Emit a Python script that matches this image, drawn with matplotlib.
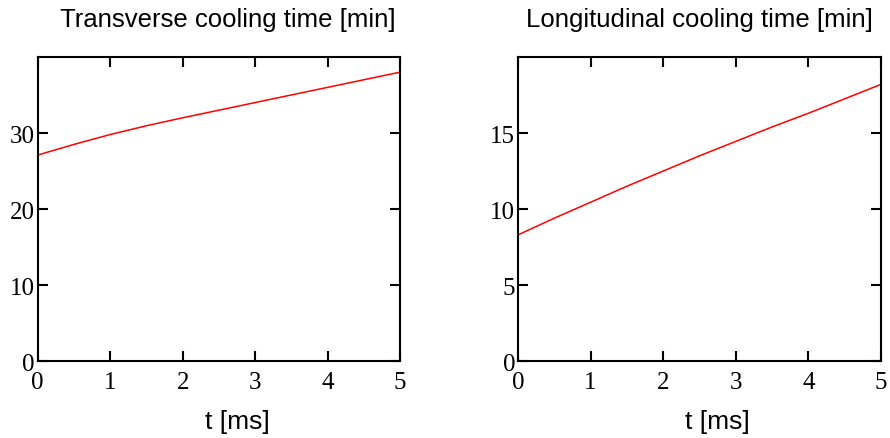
import matplotlib.pyplot as plt

# values
t_ms = [0, 0.5, 1, 1.5, 2, 2.5, 3, 3.5, 4, 4.5, 5]
transverse_min = [27.1, 28.5, 29.8, 30.95, 32.0, 33.0, 34.0, 35.0, 36.0, 37.0, 38.0]
longitudinal_min = [8.3, 9.4, 10.45, 11.5, 12.5, 13.5, 14.45, 15.4, 16.3, 17.25, 18.2]

x_ticks = [0, 1, 2, 3, 4, 5]
trans_yticks = [0, 10, 20, 30]
long_yticks = [0, 5, 10, 15]

fig = plt.figure(figsize=(8.9, 4.39), dpi=100)

panels = [
    ([0.0424, 0.175, 0.407, 0.693], transverse_min, trans_yticks, 40,
     'Transverse cooling time [min]', 0.525),
    ([0.582, 0.175, 0.408, 0.693], longitudinal_min, long_yticks, 20,
     'Longitudinal cooling time [min]', 0.50),
]

for rect, vals, yt, ytop, title, tx in panels:
    ax = fig.add_axes(rect)
    ax.plot(t_ms, vals, color='red', lw=1.1)
    ax.set_xlim(0, 5)
    ax.set_ylim(0, ytop)
    ax.set_xticks(x_ticks)
    ax.set_yticks(yt)
    ax.tick_params(direction='in', top=True, right=True, length=7, width=1.5,
                   labelsize=18)
    ax.tick_params(axis='x', pad=7)
    ax.tick_params(axis='y', pad=2)
    for lab in ax.get_xticklabels() + ax.get_yticklabels():
        lab.set_fontfamily('Liberation Serif')
    for s in ax.spines.values():
        s.set_linewidth(1.5)
    ax.text(tx, 1.125, title, transform=ax.transAxes, ha='center', va='center',
            fontsize=18.5, family='Liberation Sans')
    ax.text(0.55, -0.197, 't [ms]', transform=ax.transAxes, ha='center', va='center',
            fontsize=19, family='Liberation Sans')

fig.savefig('out.png', dpi=100)
